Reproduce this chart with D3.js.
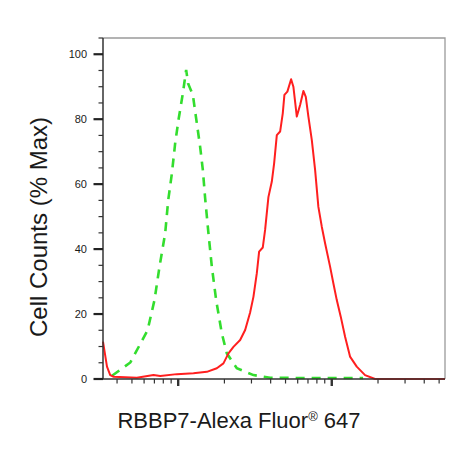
<!DOCTYPE html>
<html>
<head>
<meta charset="utf-8">
<script src="https://cdn.jsdelivr.net/npm/d3@7"></script>
<style>
  body { margin: 0; background: #fff; }
  text { font-family: "Liberation Sans", Arial, sans-serif; fill: #1a1a1a; }
</style>
</head>
<body>
<div id="chart"></div>
<script>
// isotype control (green, dashed)
const controlX = [371, 488, 632, 701, 756, 823, 861, 910, 956, 1005, 1073, 1127, 1160, 1246, 1323, 1390, 1447, 1498, 1574, 1656, 1767, 1923, 2074, 2409, 3090, 3970, 6220, 9750, 15990];
const controlY = [1.0, 5.1, 15, 24.3, 34.6, 44.9, 55, 63.3, 72.6, 79.8, 88, 95.2, 91, 87.5, 78.7, 71.5, 64.4, 55.7, 44.9, 34.6, 24.3, 14.1, 7.9, 3.3, 1.2, 0.4, 0.3, 0.3, 0.3];

// RBBP7 stained sample (red)
const sampleX = [324, 344, 361, 380, 538, 691, 764, 981, 1257, 1537, 1785, 1971, 2125, 2290, 2532, 2729, 2940, 3090, 3251, 3365, 3556, 3681, 3868, 4071, 4214, 4387, 4610, 4797, 4916, 5140, 5436, 5624, 5920, 6220, 6535, 6774, 7044, 7411, 7789, 8181, 8610, 9046, 9750, 10240, 10780, 11440, 12210, 13150, 14540, 16470, 19130, 54600];
const sampleY = [11.5, 3.8, 1.2, 0.7, 0.4, 1.2, 0.9, 1.5, 1.8, 2.2, 3.3, 4.8, 7.9, 9.9, 12, 15.1, 20.5, 25.3, 32.6, 39.2, 40.5, 45.9, 56, 60.8, 66.4, 75.1, 76.2, 81.8, 87.5, 88.5, 92.3, 90, 80.8, 84.4, 88.7, 86.9, 80.8, 73.6, 64.4, 53, 46.9, 41.8, 34.6, 29.5, 24.3, 19.2, 13, 6.9, 3.8, 1.2, 0, 0];

const yTickLabels = [0, 20, 40, 60, 80, 100];
const xLabel = "RBBP7-Alexa Fluor";
const xLabelSup = "®";
const xLabelTail = " 647";
const yLabel = "Cell Counts (% Max)";

const width = 470;
const height = 450;
const marginLeft = 103;
const marginTop = 38;
const plotW = 342;
const plotH = 341;

const xScale = d3.scaleLog().domain([324, 54600]).range([0, plotW]);
const yScale = d3.scaleLinear().domain([0, 105]).range([plotH, 0]);

const svg = d3
  .select("#chart")
  .append("svg")
  .attr("width", width)
  .attr("height", height);

const g = svg
  .append("g")
  .attr("transform", `translate(${marginLeft}, ${marginTop})`);

/* frame: top and right in grey */
g.append("path")
  .attr("d", `M0,0H${plotW}V${plotH}`)
  .attr("fill", "none")
  .attr("stroke", "#9a9a9a")
  .attr("stroke-width", 1.3);

/* curves */
const line = d3
  .line()
  .x((d) => xScale(d[0]))
  .y((d) => yScale(d[1]));

g.append("path")
  .attr("d", line(d3.zip(controlX, controlY)))
  .attr("fill", "none")
  .attr("stroke", "#33dd2e")
  .attr("stroke-width", 2.6)
  .attr("stroke-dasharray", "9,7");

g.append("path")
  .attr("d", line(d3.zip(sampleX, sampleY)))
  .attr("fill", "none")
  .attr("stroke", "#ff1f1f")
  .attr("stroke-width", 2)
  .attr("stroke-linejoin", "round");

/* y axis: majors every 20, minors every 5 */
const yAxis = g.append("g");
yAxis
  .append("line")
  .attr("x1", 0)
  .attr("x2", 0)
  .attr("y1", 0)
  .attr("y2", plotH)
  .attr("stroke", "#333")
  .attr("stroke-width", 1.5);

yAxis
  .selectAll(".minor")
  .data(d3.range(0, 106, 5).filter((v) => v % 20 !== 0))
  .enter()
  .append("line")
  .attr("x1", -4.5)
  .attr("x2", 0)
  .attr("y1", (d) => yScale(d))
  .attr("y2", (d) => yScale(d))
  .attr("stroke", "#333")
  .attr("stroke-width", 1.2);

yAxis
  .selectAll(".major")
  .data(yTickLabels)
  .enter()
  .append("line")
  .attr("x1", -9.5)
  .attr("x2", 0)
  .attr("y1", (d) => yScale(d))
  .attr("y2", (d) => yScale(d))
  .attr("stroke", "#222")
  .attr("stroke-width", 2.2);

yAxis
  .selectAll(".label")
  .data(yTickLabels)
  .enter()
  .append("text")
  .attr("x", -16)
  .attr("y", (d) => yScale(d))
  .attr("dy", "0.35em")
  .attr("text-anchor", "end")
  .style("font-size", "11px")
  .text((d) => d);

/* x axis: log ticks, decades longer and thicker */
const xAxis = g.append("g").attr("transform", `translate(0, ${plotH})`);
xAxis
  .append("line")
  .attr("x1", 0)
  .attr("x2", plotW)
  .attr("stroke", "#333")
  .attr("stroke-width", 1.5);

const xTicks = xScale.ticks().filter((v) => v > 324 && v < 54600);
const isDecade = (v) => Math.abs(Math.log10(v) % 1) < 1e-9;

xAxis
  .selectAll(".tick")
  .data(xTicks)
  .enter()
  .append("line")
  .attr("x1", (d) => xScale(d))
  .attr("x2", (d) => xScale(d))
  .attr("y1", 0)
  .attr("y2", (d) => (isDecade(d) ? 7 : 4.5))
  .attr("stroke", "#333")
  .attr("stroke-width", (d) => (isDecade(d) ? 2.4 : 1.2));

/* axis titles */
const xTitle = svg
  .append("text")
  .attr("x", 239)
  .attr("y", 428)
  .attr("text-anchor", "middle")
  .style("font-size", "22px");
xTitle.append("tspan").text(xLabel);
xTitle
  .append("tspan")
  .attr("dy", -7)
  .style("font-size", "13px")
  .text(xLabelSup);
xTitle.append("tspan").attr("dy", 7).text(xLabelTail);

svg
  .append("text")
  .attr("transform", "translate(47, 227) rotate(-90)")
  .attr("text-anchor", "middle")
  .style("font-size", "24px")
  .text(yLabel);
</script>
</body>
</html>
